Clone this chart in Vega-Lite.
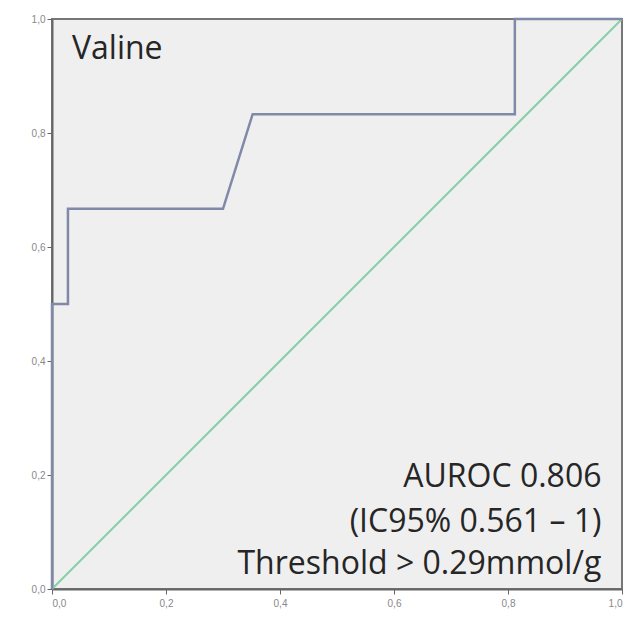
{
  "$schema": "https://vega.github.io/schema/vega-lite/v6.json",
  "width": 570,
  "height": 570,
  "autosize": {"type": "none"},
  "padding": {"left": 52, "top": 19, "right": 3, "bottom": 33},
  "background": "#ffffff",
  "config": {
    "view": {"fill": "#efefef", "stroke": "#777777", "strokeWidth": 2},
    "axis": {
      "grid": false,
      "domainColor": "#666666",
      "domainWidth": 2,
      "tickColor": "#666666",
      "tickSize": 5,
      "labelColor": "#888888",
      "labelFont": "Liberation Sans",
      "labelFontSize": 10,
      "title": null
    }
  },
  "datasets": {
    "roc": [
      {"fpr": 0.0, "tpr": 0.0},
      {"fpr": 0.0, "tpr": 0.5},
      {"fpr": 0.028, "tpr": 0.5},
      {"fpr": 0.028, "tpr": 0.667},
      {"fpr": 0.3, "tpr": 0.667},
      {"fpr": 0.352, "tpr": 0.833},
      {"fpr": 0.812, "tpr": 0.833},
      {"fpr": 0.812, "tpr": 1.0},
      {"fpr": 1.0, "tpr": 1.0}
    ],
    "ref": [
      {"fpr": 0.0, "tpr": 0.0},
      {"fpr": 1.0, "tpr": 1.0}
    ],
    "labels": [
      {"name": "Valine", "auroc": "AUROC 0.806", "ci": "(IC95% 0.561 – 1)", "thr": "Threshold > 0.29mmol/g"}
    ]
  },
  "layer": [
    {
      "data": {"name": "ref"},
      "mark": {"type": "line", "color": "#86cfa6", "strokeWidth": 2},
      "encoding": {
        "x": {"field": "fpr", "type": "quantitative", "scale": {"domain": [0, 1], "nice": false},
          "axis": {"values": [0, 0.2, 0.4, 0.6, 0.8, 1.0], "labelExpr": "replace(format(datum.value, '.1f'), '.', ',')", "labelPadding": 4}},
        "y": {"field": "tpr", "type": "quantitative", "scale": {"domain": [0, 1], "nice": false},
          "axis": {"values": [0, 0.2, 0.4, 0.6, 0.8, 1.0], "labelExpr": "replace(format(datum.value, '.1f'), '.', ',')", "labelPadding": 2}}
      }
    },
    {
      "data": {"name": "roc"},
      "mark": {"type": "line", "color": "#8089a8", "strokeWidth": 2.5},
      "encoding": {
        "x": {"field": "fpr", "type": "quantitative"},
        "y": {"field": "tpr", "type": "quantitative"},
        "order": {"value": 0}
      }
    },
    {
      "data": {"name": "labels"},
      "mark": {"type": "text", "align": "left", "baseline": "alphabetic", "font": "Open Sans", "fontSize": 32, "color": "#262626"},
      "encoding": {
        "x": {"datum": 0.035},
        "y": {"datum": 0.93},
        "text": {"field": "name"}
      }
    },
    {
      "data": {"name": "labels"},
      "mark": {"type": "text", "align": "right", "baseline": "alphabetic", "font": "Open Sans", "fontSize": 32, "color": "#262626"},
      "encoding": {
        "x": {"datum": 0.964},
        "y": {"datum": 0.179},
        "text": {"field": "auroc"}
      }
    },
    {
      "data": {"name": "labels"},
      "mark": {"type": "text", "align": "right", "baseline": "alphabetic", "font": "Open Sans", "fontSize": 32, "color": "#262626"},
      "encoding": {
        "x": {"datum": 0.964},
        "y": {"datum": 0.1},
        "text": {"field": "ci"}
      }
    },
    {
      "data": {"name": "labels"},
      "mark": {"type": "text", "align": "right", "baseline": "alphabetic", "font": "Open Sans", "fontSize": 32, "color": "#262626"},
      "encoding": {
        "x": {"datum": 0.964},
        "y": {"datum": 0.026},
        "text": {"field": "thr"}
      }
    }
  ]
}
